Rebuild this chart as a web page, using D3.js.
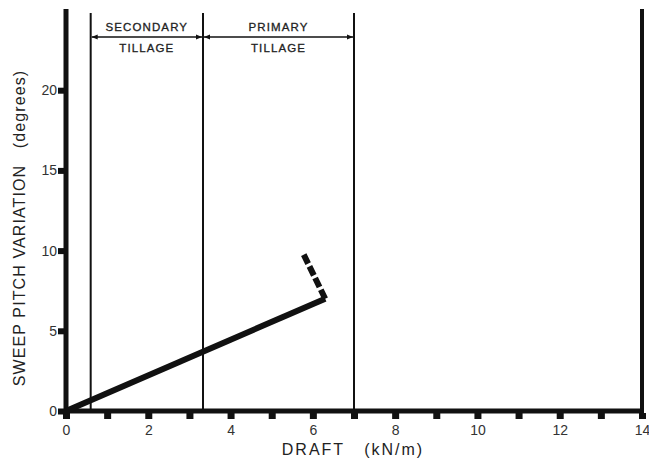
<!DOCTYPE html>
<html><head><meta charset="utf-8">
<script src="https://cdn.jsdelivr.net/npm/d3@7"></script>
<style>body{margin:0;background:#fff}svg{display:block}text{font-family:"Liberation Sans",Arial,sans-serif}</style>
</head><body><svg id="c" width="649" height="458"></svg>
<script>
const xTicks = [0,2,4,6,8,10,12,14];
const yTicks = [0,5,10,15,20];
const solidLine = [[0,0],[6.3,7]];
const dashedLine = [[6.3,7],[5.75,9.9]];
const boundaries = [0.6, 3.33, 7];
const zones = [{name:["SECONDARY","TILLAGE"], from:0.6, to:3.33},{name:["PRIMARY","TILLAGE"], from:3.33, to:7}];

const svg = d3.select("#c");
const x = d3.scaleLinear().domain([0,14]).range([66,642]);
const y = d3.scaleLinear().domain([0,25]).range([411,10]);
const ink = "#111";

svg.append("defs").append("marker").attr("id","ah").attr("viewBox","0 0 10 10")
  .attr("refX",10).attr("refY",5).attr("markerWidth",12).attr("markerHeight",6)
  .attr("markerUnits","userSpaceOnUse").attr("orient","auto-start-reverse")
  .append("path").attr("d","M0,1 L10,5 L0,9 Z").attr("fill",ink);

// boundary lines
svg.selectAll(".bd").data(boundaries).join("line")
  .attr("x1",d=>x(d)).attr("x2",d=>x(d)).attr("y1",13).attr("y2",y(0))
  .attr("stroke",ink).attr("stroke-width",2);

// zone arrows and labels
zones.forEach(z=>{
  svg.append("line").attr("x1",x(z.from)+1).attr("x2",x(z.to)-1).attr("y1",37).attr("y2",37)
    .attr("stroke",ink).attr("stroke-width",1.3)
    .attr("marker-start","url(#ah)").attr("marker-end","url(#ah)");
  const cx=(x(z.from)+x(z.to))/2;
  [z.name[0], z.name[1]].forEach((t,i)=>{
    svg.append("text").attr("x",cx).attr("y",i?52:31).attr("text-anchor","middle")
      .attr("font-size",11.5).attr("letter-spacing",1.1).attr("fill","#222")
      .attr("stroke","#222").attr("stroke-width",0.3).text(t);
  });
});

// axes frame
svg.append("line").attr("x1",x(0)).attr("x2",x(0)).attr("y1",9).attr("y2",y(0)+3).attr("stroke",ink).attr("stroke-width",5);
svg.append("line").attr("x1",x(14)).attr("x2",x(14)).attr("y1",9).attr("y2",y(0)+3).attr("stroke",ink).attr("stroke-width",4);
svg.append("line").attr("x1",x(0)-2).attr("x2",x(14)+2).attr("y1",y(0)).attr("y2",y(0)).attr("stroke",ink).attr("stroke-width",5);

// x ticks (every integer) as squares
const xAx = d3.axisBottom(x).tickValues(d3.range(0,15)).tickSize(0).tickFormat(d=>xTicks.includes(d)?d:"");
const gx = svg.append("g").attr("transform",`translate(0,${y(0)})`).call(xAx);
gx.select(".domain").remove();
gx.selectAll(".tick").append("rect").attr("x",-3.5).attr("y",2).attr("width",7).attr("height",6).attr("fill",ink);
gx.selectAll(".tick text").attr("y",14).attr("font-size",14).attr("fill","#333").attr("font-family","Liberation Sans, Arial, sans-serif");

const yAx = d3.axisLeft(y).tickValues(yTicks).tickSize(0);
const gy = svg.append("g").attr("transform",`translate(${x(0)},0)`).call(yAx);
gy.select(".domain").remove();
gy.selectAll(".tick").append("rect").attr("x",-8).attr("y",-3).attr("width",6).attr("height",6).attr("fill",ink);
gy.selectAll(".tick text").attr("x",-9).attr("font-size",14).attr("fill","#333").attr("font-family","Liberation Sans, Arial, sans-serif");

// data lines
const line = d3.line().x(d=>x(d[0])).y(d=>y(d[1]));
svg.append("path").attr("d",line(solidLine)).attr("fill","none").attr("stroke",ink).attr("stroke-width",6).attr("stroke-linejoin","miter");
svg.append("path").attr("d",line(dashedLine)).attr("fill","none").attr("stroke",ink).attr("stroke-width",6).attr("stroke-dasharray","10,3");

// titles
svg.append("text").attr("transform","translate(25,228) rotate(-90)").attr("text-anchor","middle")
  .attr("font-size",16).attr("letter-spacing",1.1).attr("fill","#222").attr("xml:space","preserve")
  .text("SWEEP PITCH VARIATION   (degrees)");
svg.append("text").attr("x",353).attr("y",455).attr("text-anchor","middle")
  .attr("font-size",16).attr("letter-spacing",2).attr("fill","#222").attr("xml:space","preserve")
  .text("DRAFT   (kN/m)");
</script></body></html>
